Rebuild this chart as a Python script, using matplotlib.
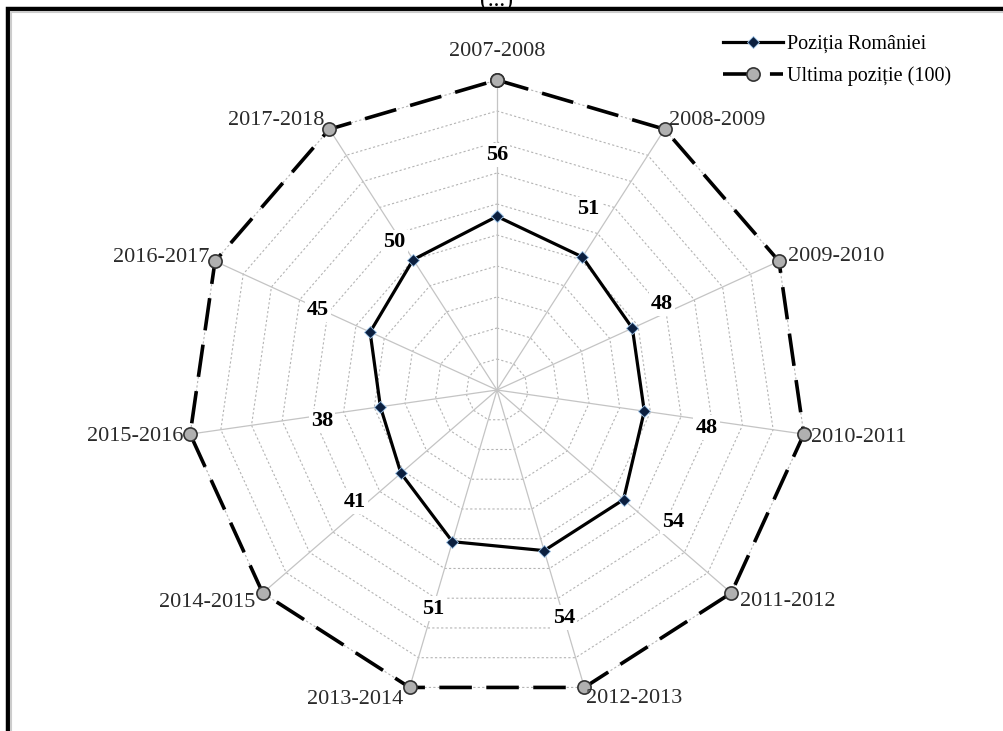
import numpy as np
import matplotlib
matplotlib.use('Agg')
from matplotlib import pyplot as plt
from matplotlib.patches import Rectangle

plt.rcParams['font.family'] = ['Liberation Serif', 'DejaVu Serif']

# data
years = ['2007-2008', '2008-2009', '2009-2010', '2010-2011', '2011-2012', '2012-2013',
         '2013-2014', '2014-2015', '2015-2016', '2016-2017', '2017-2018']
romania = [56, 51, 48, 48, 54, 54, 51, 41, 38, 45, 50]
last_pos = [100] * len(years)

# layout of the value labels (angle shift in degrees, radius) and of the year labels (pixels)
lab_shift = [0, -6, -3, 2, -4, 0, 0, 2.7, -1.8, -0.5, -2]
lab_rad = [75.8, 65.4, 60, 68.7, 71, 76.5, 73.5, 58.4, 57.3, 63.2, 58]
year_off = [(0, 29, 'center'), (4, 9, 'left'), (9, 5, 'left'), (7, -3, 'left'),
            (9, -8, 'left'), (2, -11, 'left'), (-6, -12, 'right'), (-7, -9, 'right'),
            (-7, -2, 'right'), (-6, 4, 'right'), (-5, 9, 'right')]

n = len(years)
theta = np.linspace(0, 2 * np.pi, n, endpoint=False)
th_closed = np.append(theta, theta[0])

fig = plt.figure(figsize=(10.04, 7.31), dpi=100)
W, H = 1004, 731
cx, cy, R = 497, 390, 310
ax = fig.add_axes([(cx - R) / W, 1 - (cy + R) / H, 2 * R / W, 2 * R / H], projection='polar')
ax.set_theta_zero_location('N')
ax.set_theta_direction(-1)
ax.set_ylim(0, 100)
ax.set_xticks([])
ax.set_yticks([])
ax.grid(False)
ax.spines['polar'].set_visible(False)
ax.patch.set_alpha(0)

# polygon grid
for r in range(10, 101, 10):
    ax.plot(th_closed, [r] * (n + 1), color='#b4b4b4', lw=0.8, ls=(0, (2, 2)), zorder=1)
for t in theta:
    ax.plot([t, t], [0, 100], color='#c4c4c4', lw=0.9, zorder=1)

ax.plot(th_closed, last_pos + [last_pos[0]], color='black', lw=2.6, ls=(0, (9, 4)),
        marker='o', markersize=9.5, markerfacecolor='#b0b0b0', markeredgecolor='#333333',
        markeredgewidth=1.2, label='Ultima poziție (100)', zorder=3, clip_on=False)
ax.plot(th_closed, romania + [romania[0]], color='black', lw=2.3,
        marker='D', markersize=6, markerfacecolor='#0b1f3f', markeredgecolor='#9cc3e8',
        markeredgewidth=0.6, label='Poziția României', zorder=4)

for i in range(n):
    ax.text(theta[i] + np.deg2rad(lab_shift[i]), lab_rad[i], str(romania[i]),
            ha='center', va='center', fontsize=16, fontweight='bold', zorder=5,
            bbox=dict(boxstyle='square,pad=0.1', fc='white', ec='none'))
    dx, dy, ha = year_off[i]
    ax.annotate(years[i], (theta[i], last_pos[i]), xytext=(dx, dy), textcoords='offset pixels',
                ha=ha, va='center', fontsize=16, color='#2a2a2a', zorder=5)

handles, labels = ax.get_legend_handles_labels()
fig.legend(handles[::-1], labels[::-1], loc='upper left', bbox_to_anchor=(723 / W, 1 - 35 / H),
           borderaxespad=0, borderpad=0, frameon=False, fontsize=14.5, handlelength=3.0,
           labelspacing=0.6, handletextpad=0.2)

# outer frame and cut title
fig.patches.append(Rectangle((8 / W, -0.1), 1.2, 1.1 - 9 / H, transform=fig.transFigure,
                             fill=False, ec='black', lw=3.2, zorder=10))
fig.patches.append(Rectangle((11 / W, -0.1), 1.2, 1.1 - 12 / H, transform=fig.transFigure,
                             fill=False, ec='#cccccc', lw=1.5, zorder=10))
fig.text(0.495, 1.0, '(...)', ha='center', va='center', fontsize=17)

fig.savefig('out.png', dpi=100)
